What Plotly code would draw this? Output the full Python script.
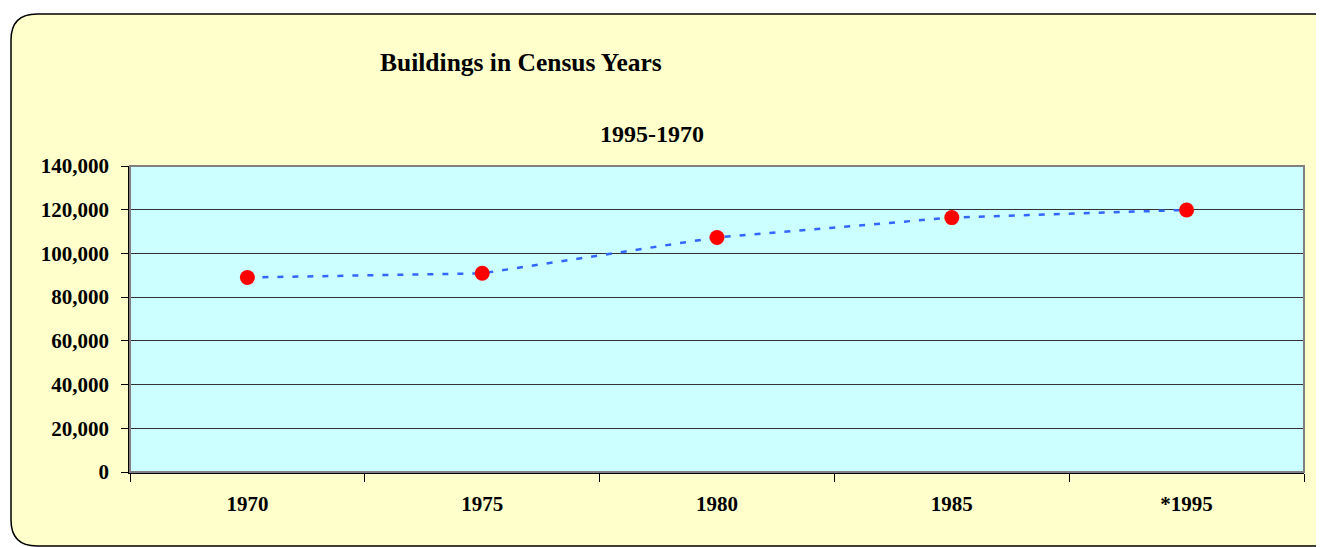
import plotly.graph_objects as go

categories = ["1970", "1975", "1980", "1985", "*1995"]
buildings = [89000, 90900, 107300, 116400, 119900]
y_ticks = [0, 20000, 40000, 60000, 80000, 100000, 120000, 140000]
y_tick_labels = ["0", "20,000", "40,000", "60,000", "80,000", "100,000", "120,000", "140,000"]

OFF = 8  # page body margin
W, H = 1324 - OFF, 547 - OFF
# target pixel positions in the screenshot
PL, PR, PT, PB = 130, 1304, 166, 472
L, T = PL - OFF, PT - OFF
R = W - (PR - OFF)
B = H - (PB - OFF)
pw, ph = PR - PL, PB - PT

def px(x):
    return (x - PL) / pw

def py(y):
    return (PB - y) / ph

FONT = "Liberation Serif, Times New Roman, serif"

fig = go.Figure()
fig.add_trace(go.Scatter(
    x=categories, y=buildings, mode="lines+markers",
    line=dict(color="#3366FF", width=2.5, dash="6px,9px"),
    marker=dict(color="#FF0000", size=15),
    showlegend=False, hoverinfo="x+y",
))

# rounded background frame
x0, x1, y0, y1, r = 11, 1345, 14, 546, 26
path = (f"M {px(x0+r)},{py(y0)} L {px(x1-r)},{py(y0)} Q {px(x1)},{py(y0)} {px(x1)},{py(y0+r)} "
        f"L {px(x1)},{py(y1-r)} Q {px(x1)},{py(y1)} {px(x1-r)},{py(y1)} "
        f"L {px(x0+r)},{py(y1)} Q {px(x0)},{py(y1)} {px(x0)},{py(y1-r)} "
        f"L {px(x0)},{py(y0+r)} Q {px(x0)},{py(y0)} {px(x0+r)},{py(y0)} Z")
fig.add_shape(type="path", path=path, xref="paper", yref="paper",
              fillcolor="#FFFFCC", line=dict(color="#000000", width=1.5), layer="below")
# plot area fill
fig.add_shape(type="rect", xref="paper", yref="paper", x0=0, x1=1, y0=0, y1=1,
              fillcolor="#CCFFFF", line=dict(width=0), layer="below")
# plot area border (gray top/right)
fig.add_shape(type="rect", xref="paper", yref="paper", x0=0, x1=1, y0=0, y1=1,
              line=dict(color="#808080", width=2), layer="above")

fig.add_annotation(text="<b>Buildings in Census Years</b>", xref="paper", yref="paper",
                   x=px(521), y=py(62), xanchor="center", yanchor="middle", showarrow=False,
                   font=dict(family=FONT, size=25.5, color="#000000"))
fig.add_annotation(text="<b>1995-1970</b>", xref="paper", yref="paper",
                   x=px(652), y=py(134), xanchor="center", yanchor="middle", showarrow=False,
                   font=dict(family=FONT, size=24, color="#000000"))

fig.update_layout(
    width=W, height=H,
    margin=dict(l=L, r=R, t=T, b=B),
    paper_bgcolor="#FFFFFF",
    plot_bgcolor="#CCFFFF",
    font=dict(family=FONT, size=21, color="#000000"),
    xaxis=dict(
        type="category", range=[-0.5, 4.5], tickson="boundaries",
        ticks="outside", ticklen=8, tickcolor="#000000", tickwidth=1,
        showline=True, linecolor="#000000", linewidth=1.5,
        showgrid=False, zeroline=False,
        tickfont=dict(family=FONT, size=21, color="#000000", weight="bold"),
        ticklabelstandoff=12,
    ),
    yaxis=dict(
        range=[0, 140000], tickvals=y_ticks, ticktext=y_tick_labels,
        ticks="outside", ticklen=7, tickcolor="#000000", tickwidth=1,
        showline=True, linecolor="#000000", linewidth=1.5,
        showgrid=True, gridcolor="#333333", gridwidth=1, zeroline=False,
        tickfont=dict(family=FONT, size=21, color="#000000", weight="bold"),
        ticklabelstandoff=8,
    ),
)

fig.write_html("out.html")
